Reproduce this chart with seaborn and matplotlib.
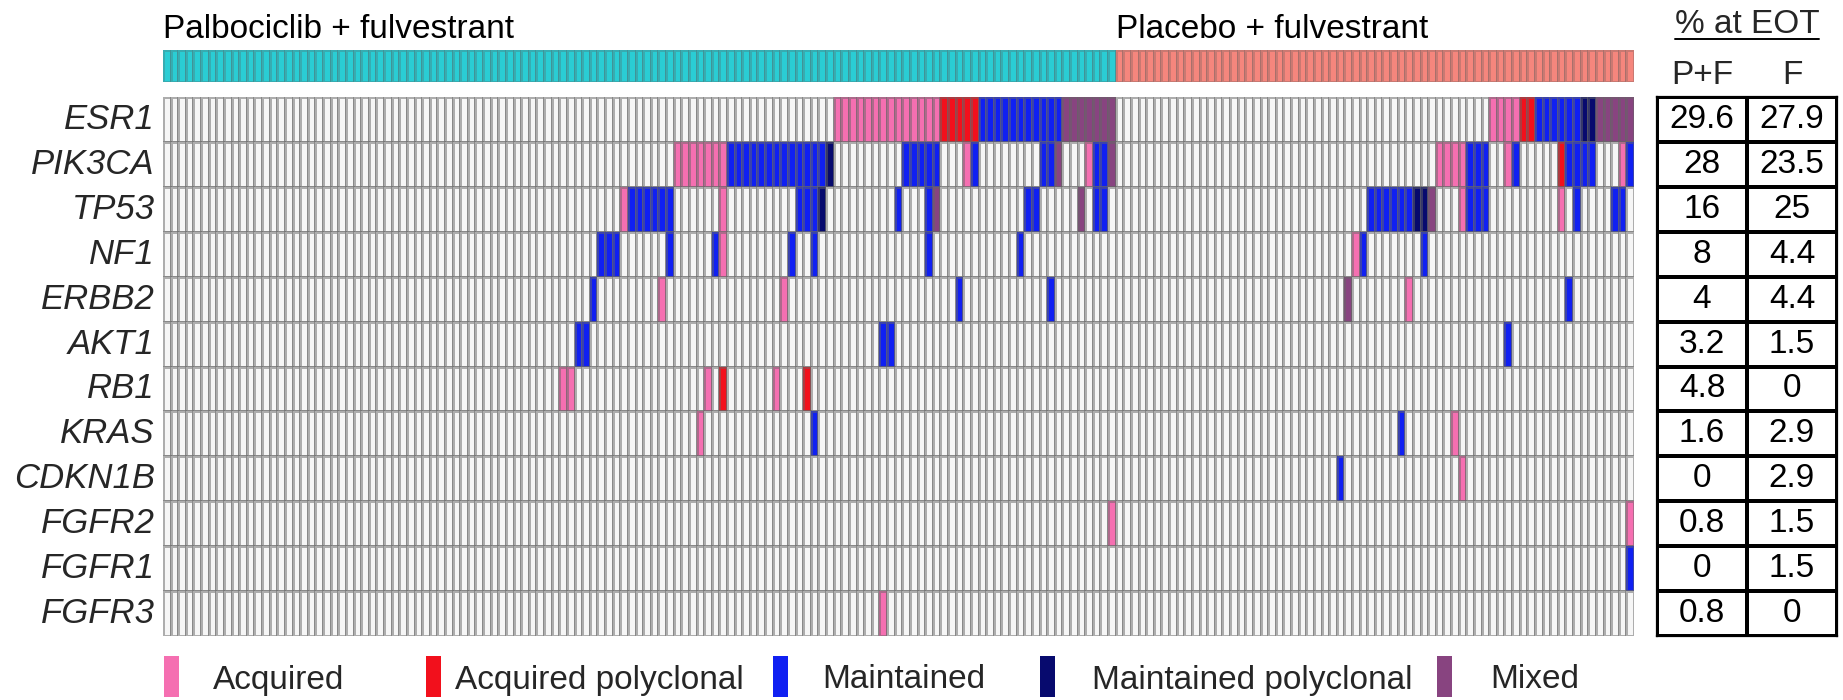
import numpy as np
import pandas as pd
import matplotlib
matplotlib.use("Agg")
import matplotlib.pyplot as plt
from matplotlib.colors import ListedColormap
from matplotlib.patches import Rectangle
from matplotlib.lines import Line2D
from matplotlib.transforms import blended_transform_factory
import seaborn as sns

# ---------------------------------------------------------------- data
GENES = ["ESR1", "PIK3CA", "TP53", "NF1", "ERBB2", "AKT1",
         "RB1", "KRAS", "CDKN1B", "FGFR2", "FGFR1", "FGFR3"]

ARMS = ["Palbociclib + fulvestrant", "Placebo + fulvestrant"]
ARM_SIZES = [125, 68]
ARM_COLORS = ["#2ACDD4", "#F5867D"]

# status codes: A acquired, R acquired polyclonal, M maintained,
# N maintained polyclonal, X mixed
STATUS_CODES = ["A", "R", "M", "N", "X"]
STATUS_LABELS = ["Acquired", "Acquired polyclonal", "Maintained",
                 "Maintained polyclonal", "Mixed"]
STATUS_COLORS = ["#F56FB1", "#F2101C", "#1020F2", "#070A6E", "#884480"]
EMPTY_COLOR = "#F6F6F6"

# Palbociclib + fulvestrant arm: patient index (0-124) per status
PF_ESR1 = {"A": [*range(88, 102)], "R": [*range(102, 107)],
           "M": [*range(107, 118)], "X": [*range(118, 125)]}
PF_PIK3CA = {"A": [*range(67, 74), 105, 121],
             "M": [*range(74, 87), *range(97, 102), 106, 115, 116, 122, 123],
             "N": [87], "X": [117, 124]}
PF_TP53 = {"A": [60, 73],
           "M": [*range(61, 67), 83, 84, 85, 96, 100, 113, 114, 122, 123],
           "N": [86], "X": [101, 120]}
PF_NF1 = {"A": [73], "M": [57, 58, 59, 66, 72, 82, 85, 100, 112]}
PF_ERBB2 = {"A": [65, 81], "M": [56, 104, 116]}
PF_AKT1 = {"M": [54, 55, 94, 95]}
PF_RB1 = {"A": [52, 53, 71, 80], "R": [73, 84]}
PF_KRAS = {"A": [70], "M": [85]}
PF_CDKN1B = {}
PF_FGFR2 = {"A": [124]}
PF_FGFR1 = {}
PF_FGFR3 = {"A": [94]}

# Placebo + fulvestrant arm: patient index (0-67) per status
PBO_ESR1 = {"A": [49, 50, 51, 52], "R": [53, 54], "M": [*range(55, 61)],
            "N": [61, 62], "X": [*range(63, 68)]}
PBO_PIK3CA = {"A": [42, 43, 44, 45, 51, 66], "R": [58],
              "M": [46, 47, 48, 52, 59, 60, 61, 62, 67]}
PBO_TP53 = {"A": [45, 58], "M": [*range(33, 39), 46, 47, 48, 60, 65, 66],
            "N": [39, 40], "X": [41]}
PBO_NF1 = {"A": [31], "M": [32, 40]}
PBO_ERBB2 = {"A": [38], "M": [59], "X": [30]}
PBO_AKT1 = {"M": [51]}
PBO_RB1 = {}
PBO_KRAS = {"A": [44], "M": [37]}
PBO_CDKN1B = {"A": [45], "M": [29]}
PBO_FGFR2 = {"A": [67]}
PBO_FGFR1 = {"M": [67]}
PBO_FGFR3 = {}

# % of patients with the alteration at end of treatment
PCT_PF = [29.6, 28, 16, 8, 4, 3.2, 4.8, 1.6, 0, 0.8, 0, 0.8]
PCT_PBO = [27.9, 23.5, 25, 4.4, 4.4, 1.5, 0, 2.9, 2.9, 1.5, 1.5, 0]
TABLE_COLS = ["P+F", "F"]

# ---------------------------------------------------------------- layout (pixels)
W, H = 1843, 700
LEG_PATCH_X = [164, 426, 773, 1040, 1437]
LEG_TEXT_X = [213, 455, 822, 1092, 1490]
FS = 24

sns.set_style("white")
plt.rcParams["font.family"] = ["Liberation Sans", "DejaVu Sans"]

PF_ROWS = [PF_ESR1, PF_PIK3CA, PF_TP53, PF_NF1, PF_ERBB2, PF_AKT1,
           PF_RB1, PF_KRAS, PF_CDKN1B, PF_FGFR2, PF_FGFR1, PF_FGFR3]
PBO_ROWS = [PBO_ESR1, PBO_PIK3CA, PBO_TP53, PBO_NF1, PBO_ERBB2, PBO_AKT1,
            PBO_RB1, PBO_KRAS, PBO_CDKN1B, PBO_FGFR2, PBO_FGFR1, PBO_FGFR3]


def arm_matrix(rows, n):
    m = np.zeros((len(rows), n), dtype=int)
    for i, events in enumerate(rows):
        for code, idx in events.items():
            m[i, idx] = STATUS_CODES.index(code) + 1
    return m


mat = np.hstack([arm_matrix(PF_ROWS, ARM_SIZES[0]),
                 arm_matrix(PBO_ROWS, ARM_SIZES[1])])
onco = pd.DataFrame(mat, index=GENES)

fig = plt.figure(figsize=(W / 100, H / 100), dpi=100)


def px_axes(x0, y0, x1, y1):
    return fig.add_axes([x0 / W, 1 - y1 / H, (x1 - x0) / W, (y1 - y0) / H])


ax_hm = px_axes(163, 97, 1634, 636)
ax_bar = px_axes(163, 50, 1634, 82)
ax_tab = px_axes(1657, 97, 1837, 636)

grid_rgba = (0.40, 0.40, 0.40, 0.50)

# oncoprint
sns.heatmap(onco, ax=ax_hm, cmap=ListedColormap([EMPTY_COLOR] + STATUS_COLORS),
            vmin=-0.5, vmax=5.5, cbar=False, linewidths=1.0, linecolor=grid_rgba,
            xticklabels=False, yticklabels=GENES)
ax_hm.tick_params(axis="y", length=0, pad=6, labelsize=25)
for t in ax_hm.get_yticklabels():
    t.set_fontstyle("italic")
    t.set_rotation(0)
ax_hm.set_xlabel("")
ax_hm.set_ylabel("")

# treatment-arm annotation bar
arm_idx = np.repeat(np.arange(len(ARMS)), ARM_SIZES)[None, :]
sns.heatmap(arm_idx, ax=ax_bar, cmap=ListedColormap(ARM_COLORS),
            vmin=-0.5, vmax=len(ARMS) - 0.5, cbar=False, linewidths=0.8,
            linecolor=(0.35, 0.35, 0.35, 0.28), xticklabels=False, yticklabels=False)
title_tr = blended_transform_factory(ax_bar.transData, fig.transFigure)
starts = np.concatenate([[0], np.cumsum(ARM_SIZES)[:-1]])
for s, name in zip(starts, ARMS):
    ax_bar.text(s, 1 - 38 / H, name, transform=title_tr, ha="left",
                va="baseline", fontsize=FS, color="black")

# percentage table
pct = pd.DataFrame({TABLE_COLS[0]: PCT_PF, TABLE_COLS[1]: PCT_PBO}, index=GENES)
pct_labels = np.array([[f"{a:g}", f"{b:g}"] for a, b in zip(PCT_PF, PCT_PBO)])
sns.heatmap(pct, ax=ax_tab, cmap=ListedColormap(["white"]), annot=pct_labels,
            fmt="", cbar=False, linewidths=1.6, linecolor="black",
            annot_kws=dict(size=FS, color="black"), yticklabels=False)
ax_tab.xaxis.tick_top()
ax_tab.tick_params(axis="x", length=0, pad=4, labelsize=FS)
ax_tab.set_xlabel("")
ax_tab.set_ylabel("")
for sp in ax_tab.spines.values():
    sp.set_visible(True)
    sp.set_color("black")
    sp.set_linewidth(1.6)

hdr = fig.text(1747 / W, 1 - 33 / H, "% at EOT", ha="center", va="baseline",
               fontsize=FS)
fig.canvas.draw()
bb = hdr.get_window_extent()
fig.add_artist(Line2D([bb.x0 / W, bb.x1 / W], [1 - 39 / H] * 2,
                      transform=fig.transFigure, color="black", lw=1.4))

# legend
for px, tx, label, color in zip(LEG_PATCH_X, LEG_TEXT_X, STATUS_LABELS, STATUS_COLORS):
    fig.add_artist(Rectangle((px / W, 1 - 697 / H), 15 / W, 41 / H,
                             transform=fig.transFigure, facecolor=color,
                             edgecolor="none"))
    fig.text(tx / W, 1 - 680 / H, label, ha="left", va="center", fontsize=FS)

fig.savefig("out.png", dpi=100)
